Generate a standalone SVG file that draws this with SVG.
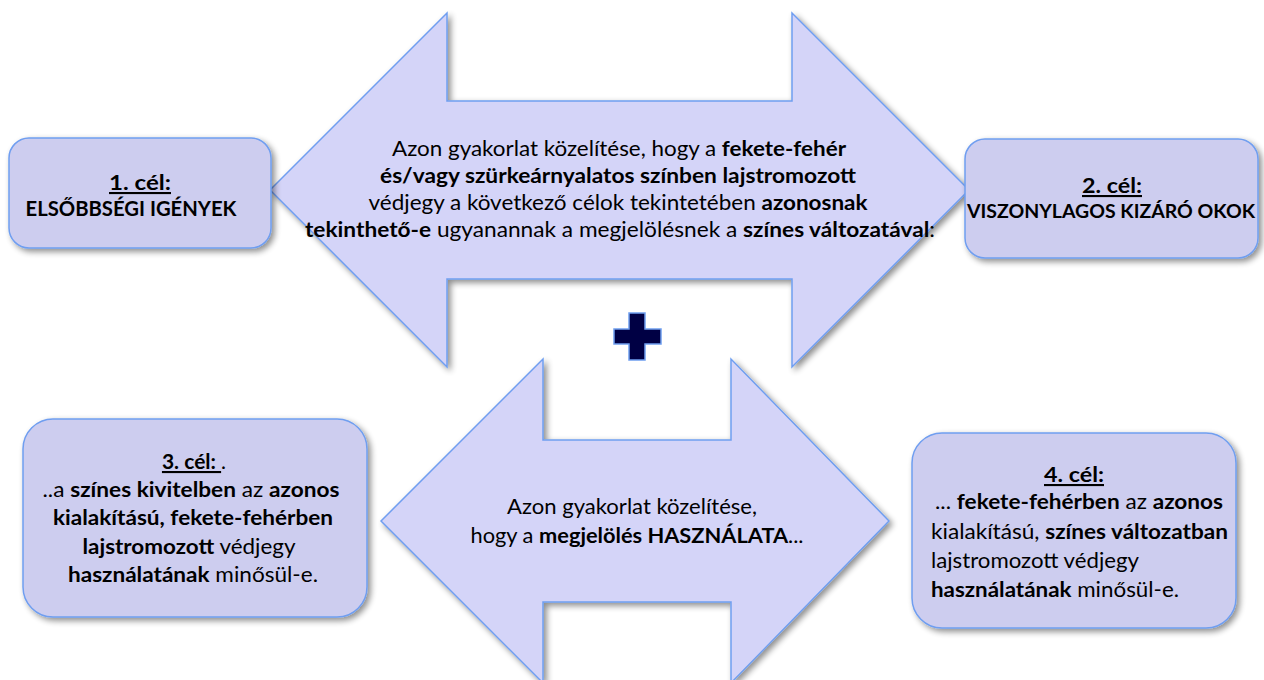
<svg xmlns="http://www.w3.org/2000/svg" width="1264" height="680" viewBox="0 0 1264 680">
<defs>
<filter id="sh" x="-10%" y="-10%" width="130%" height="130%">
<feGaussianBlur in="SourceAlpha" stdDeviation="3"/>
<feOffset dx="3" dy="3" result="o"/>
<feComponentTransfer><feFuncA type="linear" slope="0.45"/></feComponentTransfer>
<feMerge><feMergeNode/><feMergeNode in="SourceGraphic"/></feMerge>
</filter>
<style>
.arrow{fill:#d4d4f8;stroke:#6f9ef0;stroke-width:1.5;filter:url(#sh)}
.box{fill:#cdcdef;stroke:#6f9ef0;stroke-width:1.5;filter:url(#sh)}
text{font-family:Lato,"Liberation Sans",sans-serif;font-size:21px;fill:#000}
.c{text-anchor:middle}
.b{font-weight:bold}
.u{text-decoration:underline;font-weight:bold}
</style>
</defs>
<rect width="1264" height="680" fill="#fff"/>
<g id="arrow-top">
<path class="arrow" d="M270,190 L447,13 L447,101 L792,101 L792,13 L969,190 L792,367 L792,279 L447,279 L447,367 Z"/>
<text class="c" x="619" y="156" textLength="454" lengthAdjust="spacingAndGlyphs">Azon gyakorlat közelítése,  hogy a <tspan class="b">fekete-fehér</tspan></text>
<text class="c b" x="618" y="183" textLength="476" lengthAdjust="spacingAndGlyphs">és/vagy szürkeárnyalatos színben lajstromozott</text>
<text class="c" x="618" y="210" textLength="499" lengthAdjust="spacingAndGlyphs">védjegy a következő célok tekintetében <tspan class="b">azonosnak</tspan></text>
<text class="c" x="620" y="237" textLength="630" lengthAdjust="spacingAndGlyphs"><tspan class="b">tekinthető-e</tspan> ugyanannak a megjelölésnek  a <tspan class="b">színes változatával</tspan>:</text>
</g>
<g id="arrow-bottom">
<path class="arrow" d="M381,521 L543,359 L543,440 L731,440 L731,359 L889,521 L731,683 L731,602 L543,602 L543,683 Z"/>
<text class="c" x="632" y="514" textLength="250" lengthAdjust="spacingAndGlyphs">Azon gyakorlat közelítése,</text>
<text class="c" x="637" y="543" textLength="333" lengthAdjust="spacingAndGlyphs">hogy a <tspan class="b">megjelölés HASZNÁLATA</tspan>...</text>
</g>
<g id="plus">
<path d="M629,313 H645 V329 H661 V344 H645 V360 H629 V344 H614 V329 H629 Z" fill="#000044" stroke="#6f9ef0" stroke-width="1.5"/>
</g>
<g id="goal-1">
<rect class="box" x="9" y="138" width="262" height="110" rx="20"/>
<text class="c" x="140" y="190" textLength="62" lengthAdjust="spacingAndGlyphs"><tspan class="u">1. cél:</tspan></text>
<text class="c b" x="131" y="216" textLength="211" lengthAdjust="spacingAndGlyphs">ELSŐBBSÉGI IGÉNYEK</text>
</g>
<g id="goal-2">
<rect class="box" x="965" y="139" width="293" height="119" rx="20"/>
<text class="c" x="1112" y="193" textLength="60" lengthAdjust="spacingAndGlyphs"><tspan class="u">2. cél:</tspan></text>
<text class="c b" x="1111" y="218" style="font-size:18px" textLength="288" lengthAdjust="spacingAndGlyphs">VISZONYLAGOS KIZÁRÓ OKOK</text>
</g>
<g id="goal-3">
<rect class="box" x="23" y="419" width="344" height="198" rx="30"/>
<text class="c" x="194" y="469"><tspan class="u">3. cél: </tspan> .</text>
<text class="c" x="191" y="497" textLength="297" lengthAdjust="spacingAndGlyphs">..a <tspan class="b">színes kivitelben</tspan> az <tspan class="b">azonos</tspan></text>
<text class="c b" x="193" y="525" textLength="280" lengthAdjust="spacingAndGlyphs">kialakítású, fekete-fehérben</text>
<text class="c" x="189" y="554" textLength="213" lengthAdjust="spacingAndGlyphs"><tspan class="b">lajstromozott</tspan> védjegy</text>
<text class="c" x="193" y="582" textLength="250" lengthAdjust="spacingAndGlyphs"><tspan class="b">használatának</tspan> minősül-e.</text>
</g>
<g id="goal-4">
<rect class="box" x="912" y="433" width="324" height="195" rx="30"/>
<text class="c" x="1074" y="482" textLength="60" lengthAdjust="spacingAndGlyphs"><tspan class="u">4. cél:</tspan></text>
<text x="935" y="509" textLength="288" lengthAdjust="spacingAndGlyphs">... <tspan class="b">fekete-fehérben</tspan> az <tspan class="b">azonos</tspan></text>
<text x="931" y="539" textLength="297" lengthAdjust="spacingAndGlyphs">kialakítású, <tspan class="b">színes változatban</tspan></text>
<text x="931" y="568" textLength="208" lengthAdjust="spacingAndGlyphs">lajstromozott védjegy</text>
<text x="931" y="597" textLength="248" lengthAdjust="spacingAndGlyphs"><tspan class="b">használatának</tspan> minősül-e.</text>
</g>
<g id="connectors"></g>
</svg>
